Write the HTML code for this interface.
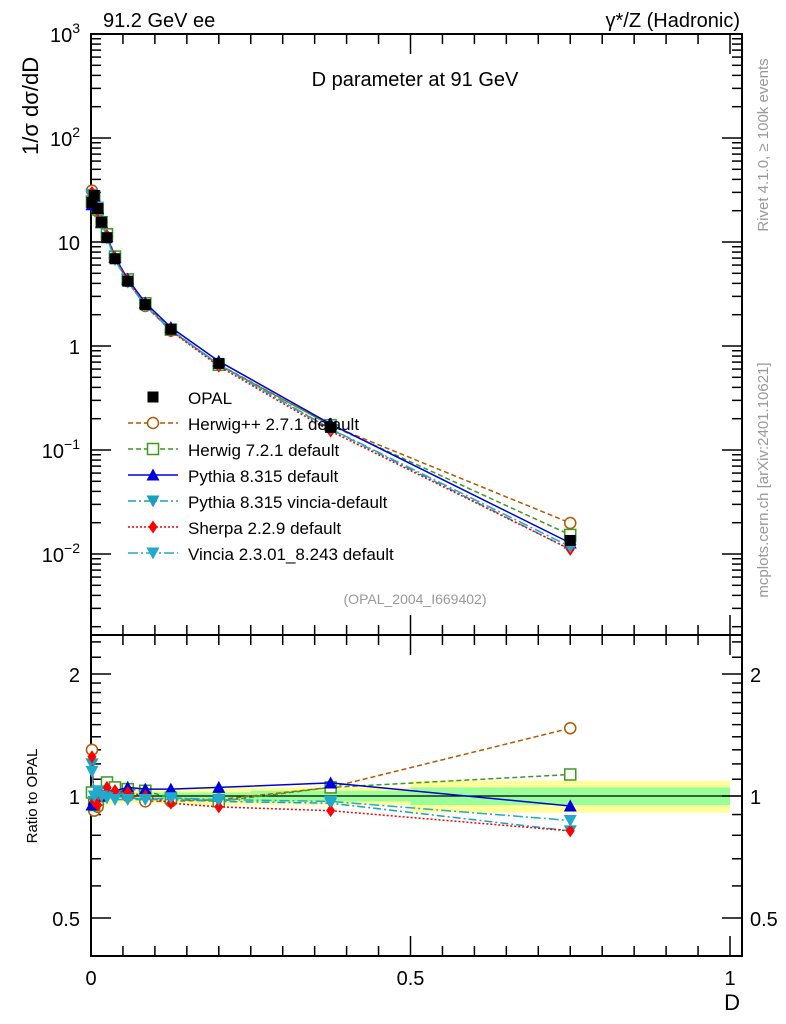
<!DOCTYPE html>
<html><head><meta charset="utf-8"><style>
body{margin:0;background:#fff;}
svg{display:block;font-family:"Liberation Sans",sans-serif;}
</style></head><body>
<svg id="c" width="786" height="1024" xmlns="http://www.w3.org/2000/svg"></svg>
<script>
const categories=[0.0015,0.005,0.0105,0.0165,0.025,0.0375,0.0575,0.085,0.125,0.2,0.375,0.75];
const binEdges=[0,0.003,0.007,0.014,0.02,0.03,0.045,0.07,0.1,0.15,0.25,0.5,1.0];
const opalValues=[24,28,21,15.5,11,6.9,4.2,2.5,1.45,0.68,0.165,0.0135];
const totErr=[0.06,0.05,0.05,0.05,0.05,0.04,0.04,0.04,0.04,0.05,0.05,0.09];
const statErr=[0.03,0.02,0.02,0.02,0.02,0.02,0.02,0.02,0.02,0.02,0.03,0.05];
const herwigppRatio=[1.3,0.92,0.94,1.0,1.03,1.02,1.0,0.97,0.97,0.98,1.05,1.47];
const herwig7Ratio=[1.02,0.95,0.98,1.0,1.08,1.05,1.04,1.03,0.99,0.97,1.05,1.13];
const pythiaRatio=[0.95,0.98,1.0,1.0,1.03,1.03,1.05,1.04,1.04,1.05,1.077,0.945];
const pythiaVinciaRatio=[1.2,0.97,1.0,1.0,1.0,1.0,0.99,0.98,0.98,0.97,0.96,0.82];
const sherpaRatio=[1.25,0.97,0.95,1.0,1.05,1.03,1.02,1.0,0.96,0.94,0.92,0.82];
const vinciaRatio=[1.15,1.0,1.03,1.0,0.99,0.98,0.98,0.98,0.99,0.98,0.97,0.87];
const yTickLabels=["10","10","10","1","10","10"];

const NS="http://www.w3.org/2000/svg";
const svg=document.getElementById('c');
const L=91,R=742,T=34,MB=635,RB=956;
const X=d=>L+d*639;
const Y=v=>T+(3-Math.log10(v))*104;
const RY=r=>796-Math.log2(r)*122;
function el(tag,attrs,parent){const e=document.createElementNS(NS,tag);for(const k in attrs)e.setAttribute(k,attrs[k]);(parent||svg).appendChild(e);return e;}

for(let i=0;i<categories.length;i++){
  const x0=X(binEdges[i]),x1=X(binEdges[i+1]);
  const b=el('rect',{x:x0,y:RY(1+totErr[i]),width:x1-x0,height:RY(1-totErr[i])-RY(1+totErr[i]),fill:'#ffff99'});
  
  
  const g=el('rect',{x:x0,y:RY(1+statErr[i]),width:x1-x0,height:RY(1-statErr[i])-RY(1+statErr[i]),fill:'#99ff99'});
  
  
}
el('line',{x1:L,x2:R,y1:RY(1),y2:RY(1),stroke:'#000','stroke-width':1.2});

el('rect',{x:L,y:T,width:R-L,height:MB-T,fill:'none',stroke:'#000','stroke-width':2});
el('rect',{x:L,y:MB,width:R-L,height:RB-MB,fill:'none',stroke:'#000','stroke-width':2});

for(let e=-3;e<=3;e++){
  for(let m=1;m<10;m++){
    const v=m*Math.pow(10,e);const y=Y(v);
    if(y<T-0.5||y>MB+0.5)continue;
    const len=m===1?20:10;
    el('line',{x1:L,x2:L+len,y1:y,y2:y,stroke:'#000','stroke-width':1.5});
    el('line',{x1:R,x2:R-len,y1:y,y2:y,stroke:'#000','stroke-width':1.5});
  }
}
const expo=[3,2,1,0,-1,-2];
expo.forEach((e,i)=>{
  const y=Y(Math.pow(10,e));
  const t=el('text',{x:80,y:y+8,'font-size':20,'text-anchor':'end'});
  
  
  if(e===0||e===1){t.textContent=e===0?'1':'10';}
  else{t.textContent=yTickLabels[i];const s=el('tspan',{'font-size':14,dy:-9},t);s.textContent=e<0?'−'+(-e):String(e);}
});
for(let k=0;k<=20;k++){
  const d=k*0.05;const x=X(d);const len=k%10===0?20:10;
  el('line',{x1:x,x2:x,y1:MB,y2:MB-len,stroke:'#000','stroke-width':1.5});
  el('line',{x1:x,x2:x,y1:T,y2:T+len,stroke:'#000','stroke-width':1.5});
  el('line',{x1:x,x2:x,y1:RB,y2:RB-len,stroke:'#000','stroke-width':1.5});
  el('line',{x1:x,x2:x,y1:MB,y2:MB+len,stroke:'#000','stroke-width':1.5});
}
[["0",0],["0.5",0.5],["1",1]].forEach(([s,d])=>{const t=el('text',{x:X(d),y:985,'font-size':20,'text-anchor':'middle'});t.textContent=s;});
const rt=[0.5,0.6,0.7,0.8,0.9,1,1.1,1.2,1.3,1.4,1.5,1.6,1.7,1.8,1.9,2,2.2,2.4,2.6];
rt.forEach(r=>{const y=RY(r);if(y<MB||y>RB)return;const len=(r===0.5||r===1||r===2)?20:10;
  el('line',{x1:L,x2:L+len,y1:y,y2:y,stroke:'#000','stroke-width':1.5});
  el('line',{x1:R,x2:R-len,y1:y,y2:y,stroke:'#000','stroke-width':1.5});});
[["2",2],["1",1],["0.5",0.5]].forEach(([s,r])=>{
  const a=el('text',{x:80,y:RY(r)+8,'font-size':20,'text-anchor':'end'});a.textContent=s;
  const b=el('text',{x:750,y:RY(r)+8,'font-size':20});b.textContent=s;});

function marker(type,x,y,color,parent){
  if(type==='sq')return el('rect',{x:x-5.5,y:y-5.5,width:11,height:11,fill:'#fff',stroke:color,'stroke-width':1.5},parent);
  if(type==='circ')return el('circle',{cx:x,cy:y,r:5.5,fill:'#fff',stroke:color,'stroke-width':1.5},parent);
  if(type==='up')return el('path',{d:`M${x-6.5},${y+5.5}L${x+6.5},${y+5.5}L${x},${y-6.5}Z`,fill:color},parent);
  if(type==='down')return el('path',{d:`M${x-6.5},${y-5.5}L${x+6.5},${y-5.5}L${x},${y+6.5}Z`,fill:color},parent);
  if(type==='dia')return el('path',{d:`M${x},${y-6.5}L${x+4.5},${y}L${x},${y+6.5}L${x-4.5},${y}Z`,fill:color},parent);
  if(type==='fsq')return el('rect',{x:x-5.5,y:y-5.5,width:11,height:11,fill:color},parent);
}
const series=[
 {name:'herwigpp',label:'Herwig++ 2.7.1 default',r:herwigppRatio,c:'#b35900',dash:'5,3',m:'circ'},
 {name:'herwig7',label:'Herwig 7.2.1 default',r:herwig7Ratio,c:'#3c9a1e',dash:'5,3',m:'sq'},
 {name:'pythia',label:'Pythia 8.315 default',r:pythiaRatio,c:'#0000dd',dash:'',m:'up'},
 {name:'pythia-vincia',label:'Pythia 8.315 vincia-default',r:pythiaVinciaRatio,c:'#1a9fc0',dash:'8,3,2,3',m:'down'},
 {name:'sherpa',label:'Sherpa 2.2.9 default',r:sherpaRatio,c:'#ff0000',dash:'2,2',m:'dia'},
 {name:'vincia',label:'Vincia 2.3.01_8.243 default',r:vinciaRatio,c:'#22aacc',dash:'10,3,2,3',m:'down'}
];
series.forEach(s=>{
  const g=el('g',{});
  
  
  const pm=categories.map((d,i)=>`${X(d).toFixed(1)},${Y(opalValues[i]*s.r[i]).toFixed(1)}`).join(' ');
  el('polyline',{points:pm,fill:'none',stroke:s.c,'stroke-width':1.5,'stroke-dasharray':s.dash},g);
  const pr=categories.map((d,i)=>`${X(d).toFixed(1)},${RY(s.r[i]).toFixed(1)}`).join(' ');
  el('polyline',{points:pr,fill:'none',stroke:s.c,'stroke-width':1.5,'stroke-dasharray':s.dash},g);
  categories.forEach((d,i)=>{
    const m1=marker(s.m,X(d),Y(opalValues[i]*s.r[i]),s.c,g);
    
    
    const m2=marker(s.m,X(d),RY(s.r[i]),s.c,g);
    
    
  });
});
categories.forEach((d,i)=>{
  const m=marker('fsq',X(d),Y(opalValues[i]),'#000');
  
  
});

const lg=el('g',{});


marker('fsq',153,397,'#000',lg);
const t0=el('text',{x:188,y:404,'font-size':17},lg);t0.textContent='OPAL';


series.forEach((s,i)=>{
  const y=423+i*26;
  el('line',{x1:128,x2:178,y1:y,y2:y,stroke:s.c,'stroke-width':1.5,'stroke-dasharray':s.dash},lg);
  marker(s.m,153,y,s.c,lg);
  const t=el('text',{x:188,y:y+7,'font-size':17},lg);t.textContent=s.label;
  
  
});

function txt(s,attrs,name){const t=el('text',attrs);t.textContent=s;return t;}
txt('91.2 GeV ee',{x:103,y:27,'font-size':20},'energy-label');
txt('γ*/Z (Hadronic)',{x:740,y:27,'font-size':20,'text-anchor':'end'},'process-label');
txt('D parameter at 91 GeV',{x:415,y:86,'font-size':20,'text-anchor':'middle'},'plot-title');
txt('(OPAL_2004_I669402)',{x:415,y:604,'font-size':14,'text-anchor':'middle',fill:'#999'},'analysis-id');
txt('1/σ  dσ/dD',{x:0,y:0,'font-size':22,transform:'translate(38,155) rotate(-90)'},'y-axis-title');
txt('Ratio to OPAL',{x:0,y:0,'font-size':15,'text-anchor':'middle',transform:'translate(37,796) rotate(-90)'},'ratio-axis-title');
txt('D',{x:740,y:1010,'font-size':22,'text-anchor':'end'},'x-axis-title');
txt('Rivet 4.1.0, ≥ 100k events',{x:0,y:0,'font-size':15,'text-anchor':'middle',fill:'#999',transform:'translate(768,145) rotate(-90)'},'rivet-version-label');
txt('mcplots.cern.ch [arXiv:2401.10621]',{x:0,y:0,'font-size':15,'text-anchor':'middle',fill:'#999',transform:'translate(768,480) rotate(-90)'},'mcplots-label');
</script>
</body></html>
